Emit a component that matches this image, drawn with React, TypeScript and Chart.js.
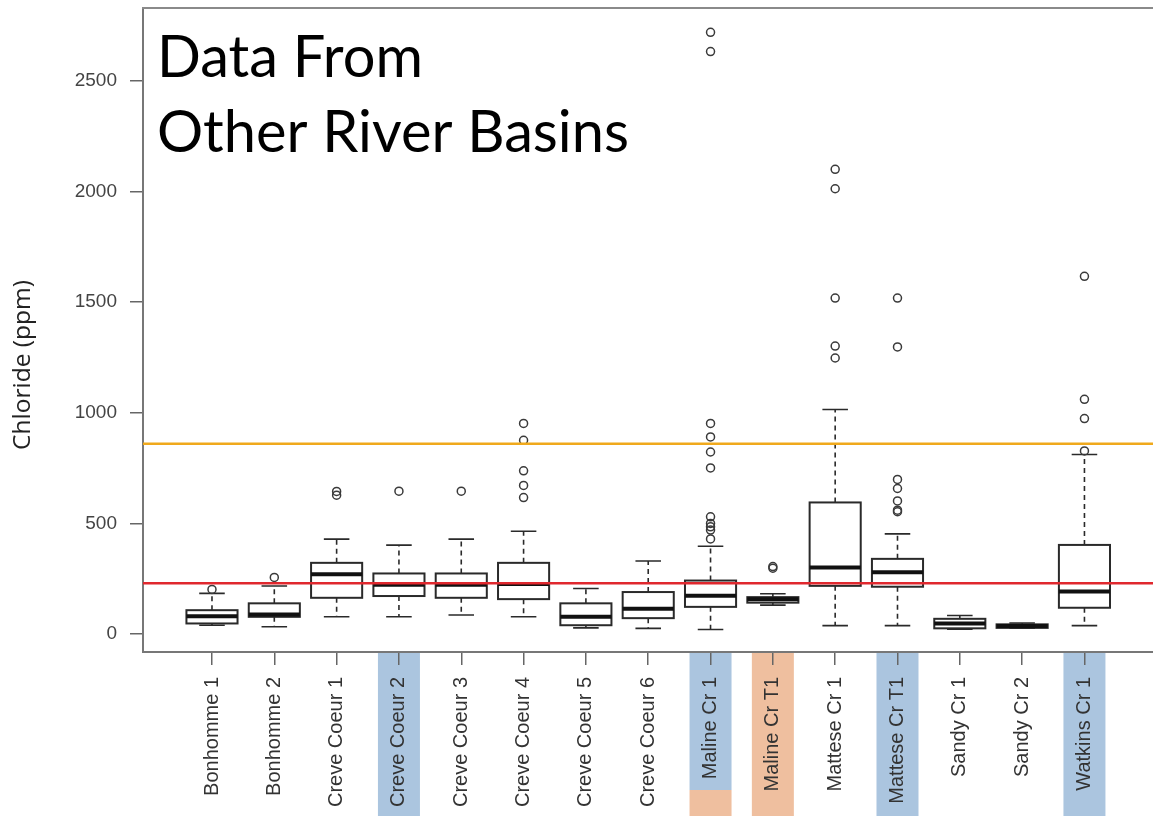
import React, { useEffect, useRef } from "react";
import { Chart, registerables } from "chart.js";

Chart.register(...registerables);

// ---- data ----
const CATEGORIES = [
  "Bonhomme 1",
  "Bonhomme 2",
  "Creve Coeur 1",
  "Creve Coeur 2",
  "Creve Coeur 3",
  "Creve Coeur 4",
  "Creve Coeur 5",
  "Creve Coeur 6",
  "Maline Cr 1",
  "Maline Cr T1",
  "Mattese Cr 1",
  "Mattese Cr T1",
  "Sandy Cr 1",
  "Sandy Cr 2",
  "Watkins Cr 1",
];
const WHISKER_LOW = [40, 33, 78, 78, 86, 78, 28, 26, 21, 131, 38, 38, 22, 27, 38];
const Q1 = [48, 78, 164, 172, 164, 158, 40, 72, 123, 142, 218, 214, 26, 28, 119];
const MEDIAN = [81, 89, 271, 223, 223, 226, 78, 114, 173, 158, 301, 279, 48, 36, 193];
const Q3 = [108, 139, 322, 274, 274, 322, 139, 190, 242, 167, 595, 340, 69, 44, 403];
const WHISKER_HIGH = [184, 217, 429, 402, 429, 465, 206, 330, 397, 182, 1015, 453, 84, 50, 812];
const OUTLIERS: number[][] = [
  [202],
  [256],
  [645, 628],
  [646],
  [646],
  [952, 876, 738, 672, 617],
  [],
  [],
  [2720, 2633, 952, 891, 823, 751, 530, 500, 485, 470, 430],
  [305, 298],
  [2101, 2013, 1519, 1302, 1248],
  [1519, 1298, 699, 658, 602, 560, 553],
  [],
  [],
  [1617, 1061, 974, 828],
];
const HIGHLIGHTS = ["", "", "", "blue", "", "", "", "", "blue-orange", "orange", "", "blue", "", "", "blue"];
const Y_TICKS = [0, 500, 1000, 1500, 2000, 2500];
const ACUTE_LIMIT = 860;
const CHRONIC_LIMIT = 230;
const TITLE_LINES = ["Data From", "Other River Basins"];
const Y_TITLE = "Chloride (ppm)";

// ---- axis ranges ----
const X_MIN = -1.107;
const X_MAX = 15.1;
const Y_MIN = -81;
const Y_MAX = 2830;

const BLUE = "#abc5df";
const ORANGE = "#efbf9f";

const bandsPlugin = {
  id: "bands",
  beforeDraw(chart: any) {
    const { ctx, chartArea, scales } = chart;
    const xs = scales.x;
    const h = chart.height;
    const half = 21;
    ctx.save();
    HIGHLIGHTS.forEach((kind, i) => {
      if (!kind) return;
      const cx = xs.getPixelForValue(i);
      const top = chartArea.bottom;
      if (kind === "blue") {
        ctx.fillStyle = BLUE;
        ctx.fillRect(cx - half, top, half * 2, h - top);
      } else if (kind === "orange") {
        ctx.fillStyle = ORANGE;
        ctx.fillRect(cx - half, top, half * 2, h - top);
      } else if (kind === "blue-orange") {
        const split = h - 26;
        ctx.fillStyle = BLUE;
        ctx.fillRect(cx - half, top, half * 2, split - top);
        ctx.fillStyle = ORANGE;
        ctx.fillRect(cx - half, split, half * 2, h - split);
      }
    });
    ctx.restore();
  },
};

const boxPlugin = {
  id: "boxes",
  beforeDatasetsDraw(chart: any) {
    const { ctx, scales, chartArea } = chart;
    const xs = scales.x;
    const ys = scales.y;
    const boxFrac = 0.41;
    const capFrac = 0.205;
    ctx.save();
    ctx.beginPath();
    ctx.rect(chartArea.left, chartArea.top, chartArea.right - chartArea.left, chartArea.bottom - chartArea.top);
    ctx.clip();
    CATEGORIES.forEach((_, i) => {
      const cx = xs.getPixelForValue(i);
      const hw = xs.getPixelForValue(i + boxFrac) - cx;
      const cw = xs.getPixelForValue(i + capFrac) - cx;
      const yLo = ys.getPixelForValue(WHISKER_LOW[i]);
      const yQ1 = ys.getPixelForValue(Q1[i]);
      const yMed = ys.getPixelForValue(MEDIAN[i]);
      const yQ3 = ys.getPixelForValue(Q3[i]);
      const yHi = ys.getPixelForValue(WHISKER_HIGH[i]);
      ctx.strokeStyle = "#2a2a2a";
      // whiskers (dashed)
      ctx.lineWidth = 1.6;
      ctx.setLineDash([5, 4]);
      ctx.beginPath();
      ctx.moveTo(cx, yQ3);
      ctx.lineTo(cx, yHi);
      ctx.moveTo(cx, yQ1);
      ctx.lineTo(cx, yLo);
      ctx.stroke();
      ctx.setLineDash([]);
      // caps
      ctx.beginPath();
      ctx.moveTo(cx - cw, yHi);
      ctx.lineTo(cx + cw, yHi);
      ctx.moveTo(cx - cw, yLo);
      ctx.lineTo(cx + cw, yLo);
      ctx.stroke();
      // box
      ctx.fillStyle = "#ffffff";
      ctx.fillRect(cx - hw, yQ3, hw * 2, yQ1 - yQ3);
      ctx.lineWidth = 2;
      ctx.strokeRect(cx - hw, yQ3, hw * 2, yQ1 - yQ3);
      // median
      ctx.lineWidth = 4;
      ctx.strokeStyle = "#111111";
      ctx.beginPath();
      ctx.moveTo(cx - hw, yMed);
      ctx.lineTo(cx + hw, yMed);
      ctx.stroke();
    });
    ctx.restore();
  },
};

const textPlugin = {
  id: "texts",
  afterDraw(chart: any) {
    const { ctx, chartArea } = chart;
    ctx.save();
    // top frame line
    ctx.strokeStyle = "#8a8a8a";
    ctx.lineWidth = 2;
    ctx.beginPath();
    ctx.moveTo(chartArea.left - 1, chartArea.top);
    ctx.lineTo(chartArea.right, chartArea.top);
    ctx.stroke();

    // title
    ctx.fillStyle = "#000000";
    ctx.textAlign = "left";
    ctx.textBaseline = "alphabetic";
    let size = 60;
    ctx.font = `${size}px Lato, "Open Sans", sans-serif`;
    const w = ctx.measureText(TITLE_LINES[1]).width;
    size = size * (472 / w);
    ctx.font = `${size}px Lato, "Open Sans", sans-serif`;
    ctx.fillText(TITLE_LINES[0], 157, 77);
    ctx.fillText(TITLE_LINES[1], 157, 152);

    // y axis title
    ctx.translate(23, 365);
    ctx.rotate(-Math.PI / 2);
    let ys = 22;
    ctx.font = `${ys}px "Open Sans", sans-serif`;
    const yw = ctx.measureText(Y_TITLE).width;
    ys = Math.min(26, ys * (170 / yw));
    ctx.font = `${ys}px "Open Sans", sans-serif`;
    ctx.textAlign = "center";
    ctx.textBaseline = "middle";
    ctx.fillStyle = "#222222";
    ctx.fillText(Y_TITLE, 0, 0);
    ctx.restore();
  },
};

export default function App() {
  const canvasRef = useRef<HTMLCanvasElement | null>(null);

  useEffect(() => {
    const canvas = canvasRef.current;
    if (!canvas) return;
    const outlierPoints: { x: number; y: number }[] = [];
    OUTLIERS.forEach((arr, i) => arr.forEach((v) => outlierPoints.push({ x: i, y: v })));

    const chart = new Chart(canvas, {
      type: "scatter",
      data: {
        datasets: [
          {
            label: "outliers",
            data: outlierPoints,
            pointRadius: 4,
            pointBorderWidth: 1.5,
            pointBackgroundColor: "rgba(0,0,0,0)",
            pointBorderColor: "#3a3a3a",
            order: 3,
          } as any,
          {
            type: "line",
            label: "acute",
            data: [
              { x: X_MIN, y: ACUTE_LIMIT },
              { x: X_MAX, y: ACUTE_LIMIT },
            ],
            borderColor: "#f0a91c",
            borderWidth: 2.5,
            pointRadius: 0,
            order: 1,
          } as any,
          {
            type: "line",
            label: "chronic",
            data: [
              { x: X_MIN, y: CHRONIC_LIMIT },
              { x: X_MAX, y: CHRONIC_LIMIT },
            ],
            borderColor: "#e0282e",
            borderWidth: 2.5,
            pointRadius: 0,
            order: 2,
          } as any,
        ],
      },
      options: {
        animation: false,
        responsive: false,
        maintainAspectRatio: false,
        layout: { autoPadding: false, padding: { top: 8, left: 0, right: 0, bottom: 0 } },
        plugins: {
          legend: { display: false },
          tooltip: { enabled: false },
          title: { display: false },
        },
        scales: {
          x: {
            type: "linear",
            min: X_MIN,
            max: X_MAX,
            afterBuildTicks: (scale: any) => {
              scale.ticks = CATEGORIES.map((_, i) => ({ value: i }));
            },
            afterFit: (scale: any) => {
              scale.height = 164;
              scale.paddingLeft = 0;
              scale.paddingRight = 0;
            },
            ticks: {
              autoSkip: false,
              maxRotation: 90,
              minRotation: 90,
              padding: 12,
              color: "#333333",
              font: { family: '"Liberation Sans", Arial, sans-serif', size: 20 },
              callback: (v: any) => CATEGORIES[Math.round(Number(v))] ?? "",
            },
            grid: {
              drawOnChartArea: false,
              drawTicks: true,
              tickLength: 13,
              color: "#666666",
              lineWidth: 1.5,
            },
            border: { display: true, color: "#777777", width: 2 },
          },
          y: {
            type: "linear",
            min: Y_MIN,
            max: Y_MAX,
            afterBuildTicks: (scale: any) => {
              scale.ticks = Y_TICKS.map((v) => ({ value: v }));
            },
            afterFit: (scale: any) => {
              scale.width = 143;
              scale.paddingTop = 0;
              scale.paddingBottom = 0;
            },
            ticks: {
              padding: 13,
              color: "#444444",
              font: { family: '"Liberation Sans", Arial, sans-serif', size: 19 },
              callback: (v: any) => String(v),
            },
            grid: {
              drawOnChartArea: false,
              drawTicks: true,
              tickLength: 13,
              color: "#666666",
              lineWidth: 1.5,
            },
            border: { display: true, color: "#777777", width: 2 },
          },
        },
      } as any,
      plugins: [bandsPlugin, boxPlugin, textPlugin],
    });
    return () => chart.destroy();
  }, []);

  return (
    <div style={{ position: "fixed", left: 0, top: 0, width: 1153, height: 816, background: "#ffffff" }}>
      <canvas ref={canvasRef} width={1153} height={816} style={{ display: "block" }} />
    </div>
  );
}
